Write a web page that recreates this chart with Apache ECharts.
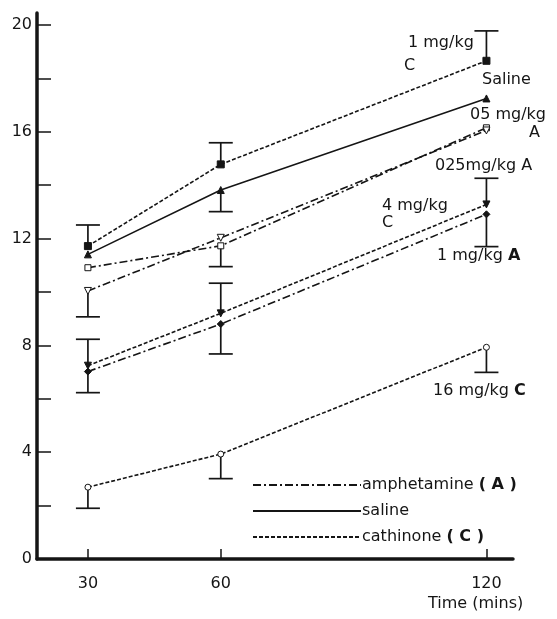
<!DOCTYPE html>
<html>
<head>
<meta charset="utf-8">
<script src="https://cdn.jsdelivr.net/npm/echarts@6/dist/echarts.min.js"></script>
<style>
html,body{margin:0;padding:0;background:#fff;}
#chart{width:557px;height:619px;}
</style>
</head>
<body>
<div id="chart"></div>
<script>
// ---- data ----
const times = [30, 60, 120];
const yTicks = [0, 2, 4, 6, 8, 10, 12, 14, 16, 18, 20];
const yLabels = [0, 4, 8, 12, 16, 20];

const cath1 = [11.72, 14.78, 18.66];
const cath1Err = [12.51, 15.59, 19.78];
const saline = [11.41, 13.82, 17.25];
const salineErr = [null, 13.01, null];
const amph05 = [10.91, 11.73, 16.15];
const amph05Err = [null, 10.95, null];
const amph025 = [10.04, 12.03, 16.05];
const amph025Err = [9.07, null, null];
const cath4 = [7.24, 9.20, 13.28];
const cath4Err = [8.23, 10.33, 14.26];
const amph1 = [7.02, 8.80, 12.91];
const amph1Err = [6.23, 7.68, 11.70];
const cath16 = [2.69, 3.93, 7.93];
const cath16Err = [1.90, 3.01, 6.99];

const legendNames = ['amphetamine (A)', 'saline', 'cathinone (C)'];

// ---- styles ----
const INK = '#151515';
const FONT = 'DejaVu Sans';
const FS = 16;
const DASH = [4, 2];
const DASHDOT = [8, 3, 2, 3];

function pts(vals) { return times.map((t, i) => [t, vals[i]]); }
function errPts(vals, ends) {
  const out = [];
  times.forEach((t, i) => { if (ends[i] != null) out.push([t, vals[i], ends[i]]); });
  return out;
}

const lineDefs = [
  { vals: cath1, err: cath1Err, dash: DASH, symbol: 'rect', fill: INK, rot: 0, size: 7 },
  { vals: saline, err: salineErr, dash: 'solid', symbol: 'triangle', fill: INK, rot: 0, size: 7 },
  { vals: amph05, err: amph05Err, dash: DASHDOT, symbol: 'rect', fill: '#fff', rot: 0, size: 6 },
  { vals: amph025, err: amph025Err, dash: DASHDOT, symbol: 'triangle', fill: '#fff', rot: 180, size: 7 },
  { vals: cath4, err: cath4Err, dash: DASH, symbol: 'triangle', fill: INK, rot: 180, size: 7 },
  { vals: amph1, err: amph1Err, dash: DASHDOT, symbol: 'diamond', fill: INK, rot: 0, size: 7 },
  { vals: cath16, err: cath16Err, dash: DASH, symbol: 'circle', fill: '#fff', rot: 0, size: 6 }
];

let errData = [];
lineDefs.forEach(d => { errData = errData.concat(errPts(d.vals, d.err)); });

const series = [];
series.push({
  type: 'custom',
  z: 1,
  silent: true,
  data: errData,
  renderItem: function (params, api) {
    const x = api.value(0), m = api.value(1), e = api.value(2);
    const p0 = api.coord([x, m]);
    const p1 = api.coord([x, e]);
    const hw = 12;
    const st = { stroke: INK, lineWidth: 1.7 };
    return {
      type: 'group',
      children: [
        { type: 'line', shape: { x1: p0[0], y1: p0[1], x2: p1[0], y2: p1[1] }, style: st },
        { type: 'line', shape: { x1: p1[0] - hw, y1: p1[1], x2: p1[0] + hw, y2: p1[1] }, style: st }
      ]
    };
  }
});

lineDefs.forEach(d => {
  series.push({
    type: 'line',
    z: 3,
    data: pts(d.vals),
    symbol: d.symbol,
    symbolSize: d.size,
    symbolRotate: d.rot,
    showAllSymbol: true,
    lineStyle: { color: INK, width: 1.6, type: d.dash },
    itemStyle: { color: d.fill, borderColor: INK, borderWidth: 1 },
    emphasis: { disabled: true },
    animation: false
  });
});

// legend-only series
const legendStyles = [DASHDOT, 'solid', DASH];
legendNames.forEach((n, i) => {
  series.push({
    type: 'line',
    name: n,
    data: [],
    symbol: 'none',
    lineStyle: { color: INK, width: 1.6, type: legendStyles[i] },
    itemStyle: { color: INK }
  });
});

function txt(x, y, t) {
  return {
    type: 'text', left: x, top: y,
    style: { text: t, font: FS + 'px "' + FONT + '"', fill: INK }
  };
}
const boldRich = { b: { fontWeight: 'bold', fontSize: FS, fontFamily: FONT, fill: INK } };

const option = {
  animation: false,
  backgroundColor: '#fff',
  grid: { left: 37, right: 44, top: 13, bottom: 60 },
  xAxis: {
    type: 'value',
    min: 18.5, max: 126,
    axisLine: { show: true, lineStyle: { color: INK, width: 3.5 } },
    axisTick: { show: true, inside: true, length: 10, customValues: times, lineStyle: { color: INK, width: 1.5 } },
    axisLabel: { customValues: times, color: INK, fontFamily: FONT, fontSize: 16, margin: 17 },
    splitLine: { show: false }
  },
  yAxis: {
    type: 'value',
    min: 0, max: 20.45,
    axisLine: { show: true, lineStyle: { color: INK, width: 3.5 } },
    axisTick: { show: true, inside: true, length: 14, customValues: yTicks, lineStyle: { color: INK, width: 1.5 } },
    axisLabel: { customValues: yLabels, color: INK, fontFamily: FONT, fontSize: 16, margin: 5 },
    splitLine: { show: false }
  },
  legend: {
    data: legendNames,
    orient: 'vertical',
    left: 247, top: 472,
    itemWidth: 108, itemHeight: 12, itemGap: 10,
    itemStyle: { opacity: 0, borderWidth: 0 },
    textStyle: {
      color: INK, fontFamily: FONT, fontSize: FS, padding: [0, 0, 0, -4],
      rich: { b: { fontWeight: 'bold', fontFamily: FONT, fontSize: FS, color: INK } }
    },
    formatter: function (name) {
      const m = name.match(/^(.*)\((.)\)$/);
      if (m) return m[1] + '{b|( ' + m[2] + ' )}';
      return name;
    },
    selectedMode: false
  },
  graphic: [
    txt(408, 35, '1 mg/kg'),
    txt(404, 58, 'C'),
    txt(482, 72, 'Saline'),
    txt(470, 107, '05 mg/kg'),
    txt(529, 125, 'A'),
    txt(435, 158, '025mg/kg A'),
    txt(382, 198, '4 mg/kg'),
    txt(382, 215, 'C'),
    { type: 'text', left: 437, top: 248, style: { text: '1 mg/kg {b|A}', font: FS + 'px "' + FONT + '"', fill: INK, rich: boldRich } },
    { type: 'text', left: 433, top: 383, style: { text: '16 mg/kg {b|C}', font: FS + 'px "' + FONT + '"', fill: INK, rich: boldRich } },
    txt(428, 596, 'Time (mins)')
  ],
  series: series
};

const chart = echarts.init(document.getElementById('chart'), null, { renderer: 'canvas' });
chart.setOption(option);
</script>
</body>
</html>
